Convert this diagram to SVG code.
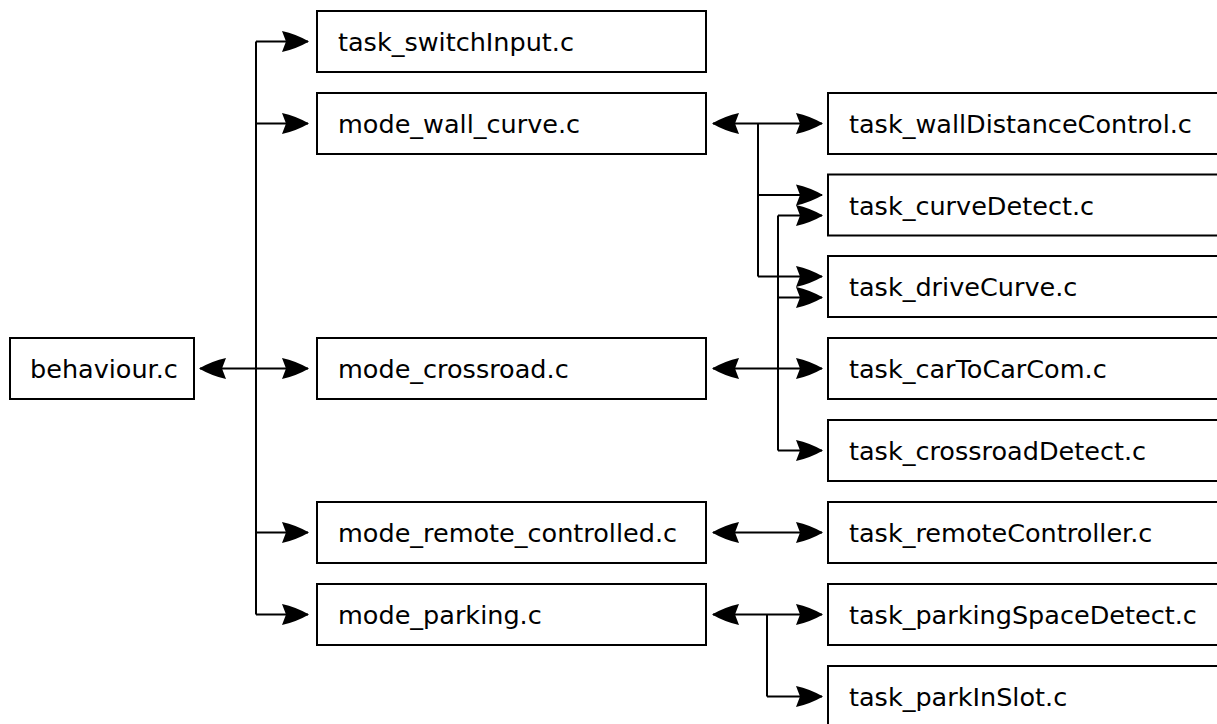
<svg xmlns="http://www.w3.org/2000/svg" width="1217" height="724" viewBox="0 0 1217 724">
<style>
.box{fill:#fff;stroke:#000;stroke-width:2}
.lbl{font-family:"DejaVu Sans",sans-serif;font-size:25.5px;fill:#000}
.ln{fill:none;stroke:#000;stroke-width:2}
.a{marker-end:url(#ah)}
.d{marker-start:url(#ah);marker-end:url(#ah)}
</style>
<defs>
<marker id="ah" markerUnits="userSpaceOnUse" markerWidth="32" markerHeight="26" viewBox="-29 -13 32 26" refX="0" refY="0" orient="auto-start-reverse">
<path d="M1,0 Q-12,-7.5 -26,-10.5 L-22,0 L-26,10.5 Q-12,7.5 1,0 Z" fill="#000"/>
</marker>
</defs>
<g id="connectors">
<path class="ln" d="M256,41.5 V614.5"/>
<path class="ln a" d="M256,41.5 H308"/>
<path class="ln a" d="M256,123.5 H308"/>
<path class="ln d" d="M200,368.5 H308"/>
<path class="ln a" d="M256,532.5 H308"/>
<path class="ln a" d="M256,614.5 H308"/>
<path class="ln d" d="M713,123.5 H822"/>
<path class="ln" d="M758,123.5 V276.5"/>
<path class="ln a" d="M758,195 H822"/>
<path class="ln a" d="M758,276.5 H822"/>
<path class="ln" d="M778,215.5 V450.5"/>
<path class="ln a" d="M778,215.5 H822"/>
<path class="ln a" d="M778,297.5 H822"/>
<path class="ln a" d="M778,450.5 H822"/>
<path class="ln d" d="M713,368.5 H822"/>
<path class="ln d" d="M713,532.5 H822"/>
<path class="ln d" d="M713,614.5 H822"/>
<path class="ln" d="M767,614.5 V696.5"/>
<path class="ln a" d="M767,696.5 H822"/>
</g>
<g id="behaviour"><rect class="box" x="10" y="338" width="184" height="61"/><text class="lbl" x="30" y="378">behaviour.c</text></g>
<g id="task_switchInput"><rect class="box" x="317" y="11" width="389" height="61"/><text class="lbl" x="338" y="51">task_switchInput.c</text></g>
<g id="mode_wall_curve"><rect class="box" x="317" y="93" width="389" height="61"/><text class="lbl" x="338" y="133">mode_wall_curve.c</text></g>
<g id="mode_crossroad"><rect class="box" x="317" y="338" width="389" height="61"/><text class="lbl" x="338" y="378">mode_crossroad.c</text></g>
<g id="mode_remote_controlled"><rect class="box" x="317" y="502" width="389" height="61"/><text class="lbl" x="338" y="542">mode_remote_controlled.c</text></g>
<g id="mode_parking"><rect class="box" x="317" y="584" width="389" height="61"/><text class="lbl" x="338" y="624">mode_parking.c</text></g>
<g id="task_wallDistanceControl"><rect class="box" x="828" y="93" width="400" height="61"/><text class="lbl" x="849" y="133">task_wallDistanceControl.c</text></g>
<g id="task_curveDetect"><rect class="box" x="828" y="174.5" width="400" height="61"/><text class="lbl" x="849" y="214.5">task_curveDetect.c</text></g>
<g id="task_driveCurve"><rect class="box" x="828" y="256" width="400" height="61"/><text class="lbl" x="849" y="296">task_driveCurve.c</text></g>
<g id="task_carToCarCom"><rect class="box" x="828" y="338" width="400" height="61"/><text class="lbl" x="849" y="378">task_carToCarCom.c</text></g>
<g id="task_crossroadDetect"><rect class="box" x="828" y="420" width="400" height="61"/><text class="lbl" x="849" y="460">task_crossroadDetect.c</text></g>
<g id="task_remoteController"><rect class="box" x="828" y="502" width="400" height="61"/><text class="lbl" x="849" y="542">task_remoteController.c</text></g>
<g id="task_parkingSpaceDetect"><rect class="box" x="828" y="584" width="400" height="61"/><text class="lbl" x="849" y="624">task_parkingSpaceDetect.c</text></g>
<g id="task_parkInSlot"><rect class="box" x="828" y="666" width="400" height="80"/><text class="lbl" x="849" y="706">task_parkInSlot.c</text></g>
</svg>
